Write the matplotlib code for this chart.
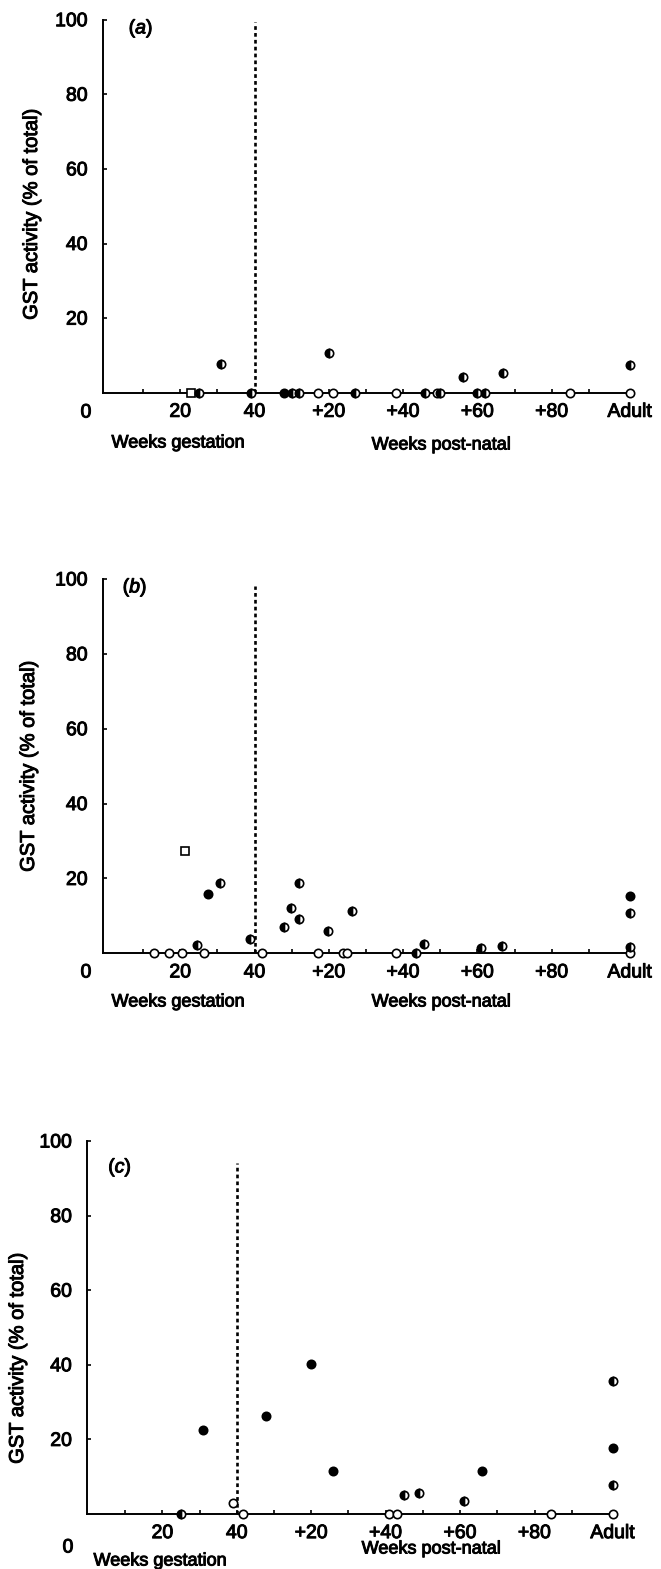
#!/usr/bin/env python3
"""GST activity (% of total) vs age, three panels (a), (b), (c)."""

import matplotlib
matplotlib.use("Agg")
import matplotlib.pyplot as plt
import matplotlib.patheffects as pe

plt.rcParams["font.family"] = ["Liberation Sans", "DejaVu Sans"]
plt.rcParams["mathtext.fontset"] = "custom"
plt.rcParams["mathtext.it"] = "Liberation Sans:italic"
plt.rcParams["mathtext.rm"] = "Liberation Sans"

# x = weeks since conception (gestation weeks; post-natal +n -> 40 + n; adult drawn at 141)
ADULT = 141
tick_pos = [20, 40, 60, 80, 100, 120, ADULT]
tick_labels = ["20", "40", "+20", "+40", "+60", "+80", "Adult"]
minor_pos = [10, 20, 30, 40, 50, 60, 70, 80, 90, 100, 110, 120, 130]
y_ticks = [20, 40, 60, 80, 100]

# panel (a)
a_x = [23, 25, 39, 48, 50, 52, 57, 61, 67, 78, 86, 89, 90, 100, 102, 125, 141,
       31, 60, 96, 107, 141]
a_y = [0, 0, 0, 0, 0, 0, 0, 0, 0, 0, 0, 0, 0, 0, 0, 0, 0,
       7.6, 10.6, 4.1, 5.4, 7.4]
a_kind = ["square", "half", "half", "filled", "half", "half", "open", "open", "half",
          "open", "half", "open", "half", "half", "half", "open", "open",
          "half", "half", "half", "half", "half"]

# panel (b)
b_x = [13, 17, 20.5, 26.5, 42, 57, 63.7, 65, 78, 83.5, 141,
       21.4, 24.5, 27.4, 30.6, 38.7, 47.9, 49.7, 52, 52, 59.9, 66.2,
       85.6, 100.9, 106.5, 141, 141, 141]
b_y = [0, 0, 0, 0, 0, 0, 0, 0, 0, 0, 0,
       27.4, 2.2, 15.8, 18.7, 3.7, 7.1, 12.0, 18.7, 9.2, 6.0, 11.4,
       2.5, 1.3, 2.0, 15.4, 10.9, 1.6]
b_kind = ["open", "open", "open", "open", "open", "open", "open", "open", "open", "half", "open",
          "square", "half", "filled", "half", "half", "half", "half", "half", "half", "half", "half",
          "half", "half", "half", "filled", "half", "half"]

# panel (c)
c_x = [25, 41.7, 81, 83, 124.4, 141,
       39, 30.8, 47.9, 59.8, 65.9, 85, 89, 101, 106, 141, 141, 141]
c_y = [0, 0, 0, 0, 0, 0,
       3.0, 22.5, 26.4, 40.1, 11.5, 5.1, 5.7, 3.5, 11.4, 35.7, 17.6, 7.8]
c_kind = ["half", "open", "open", "open", "open", "open",
          "open", "filled", "filled", "filled", "filled", "half", "half", "half", "filled",
          "half", "filled", "half"]

W, H = 661, 1569
FS_TICK = 14
FS_YLAB = 14.5
FS_XLAB = 13
heavy = [pe.withStroke(linewidth=0.7, foreground="black")]

# pixel boxes: (left, right, top, bottom), xlim, dotted-line top, label rows
panels = [
    dict(x=a_x, y=a_y, kind=a_kind, box=(103, 632, 19.7, 392.7), xlim=(-0.8, 141.6),
         dot_top=99.5, letter="a", letter_xy=(141, 29), zero_xy=(86, 413),
         gest_y=443, post_y=445, gest_x=178, post_x=441, ylab=(33, 214)),
    dict(x=b_x, y=b_y, kind=b_kind, box=(103, 632, 579, 953.3), xlim=(-0.8, 141.6),
         dot_top=98, letter="b", letter_xy=(135, 588), zero_xy=(86, 973),
         gest_y=1002, post_y=1002, gest_x=178, post_x=441, ylab=(30, 766)),
    dict(x=c_x, y=c_y, kind=c_kind, box=(87.3, 614.5, 1141, 1514), xlim=(-0.2, 141.5),
         dot_top=94, letter="c", letter_xy=(120, 1168), zero_xy=(68, 1548),
         gest_y=1561, post_y=1549, gest_x=160, post_x=431, ylab=(19, 1358)),
]

fig = plt.figure(figsize=(W / 100, H / 100), dpi=100)

for p in panels:
    l, r, t, b = p["box"]
    ax = fig.add_axes([l / W, 1 - b / H, (r - l) / W, (b - t) / H])
    ax.set_xlim(*p["xlim"])
    ax.set_ylim(0, 100)
    for s in ["top", "right"]:
        ax.spines[s].set_visible(False)
    for s in ["left", "bottom"]:
        ax.spines[s].set_linewidth(1.4)

    ax.axvline(40, ymin=0, ymax=p["dot_top"] / 100, color="black", lw=1.9,
               linestyle=(0, (1.4, 1.2)), zorder=1)

    for x, y, k in zip(p["x"], p["y"], p["kind"]):
        if k == "square":
            ax.plot(x, y, "s", ms=6, mfc="white", mec="black", mew=1.2, clip_on=False, zorder=3)
        elif k == "open":
            ax.plot(x, y, "o", ms=6, mfc="white", mec="black", mew=1.2, clip_on=False, zorder=3)
        elif k == "filled":
            ax.plot(x, y, "o", ms=6, mfc="black", mec="black", mew=1.2, clip_on=False, zorder=3)
        else:
            ax.plot(x, y, "o", ms=6, mfc="black", mec="black", mew=1.2, fillstyle="left",
                    markerfacecoloralt="white", clip_on=False, zorder=3)

    ax.set_xticks(tick_pos)
    ax.set_xticklabels(tick_labels, fontsize=FS_TICK)
    ax.set_xticks(minor_pos, minor=True)
    ax.tick_params(axis="x", which="both", direction="in", length=3, width=1.2, pad=8)
    ax.set_yticks(y_ticks)
    ax.set_yticklabels([str(v) for v in y_ticks], fontsize=FS_TICK)
    ax.tick_params(axis="y", direction="in", length=3, width=1.2, pad=11)
    for lab in ax.get_xticklabels() + ax.get_yticklabels():
        lab.set_path_effects(heavy)

    ylab = ax.set_ylabel("GST activity (% of total)", fontsize=FS_YLAB)
    ylab.set_path_effects(heavy)
    lx, ly = p["ylab"]
    # the rotated label is anchored by its right-hand (baseline) side
    ax.yaxis.set_label_coords((lx + 8 - l) / (r - l), (b - ly) / (b - t))

    texts = [
        fig.text(p["letter_xy"][0] / W, 1 - p["letter_xy"][1] / H, r"($\it{%s}$)" % p["letter"],
                 fontsize=FS_TICK, ha="center", va="center"),
        fig.text(p["zero_xy"][0] / W, 1 - p["zero_xy"][1] / H, "0",
                 fontsize=FS_TICK, ha="center", va="center"),
        fig.text(p["gest_x"] / W, 1 - p["gest_y"] / H, "Weeks gestation",
                 fontsize=FS_XLAB, ha="center", va="center"),
        fig.text(p["post_x"] / W, 1 - p["post_y"] / H, "Weeks post-natal",
                 fontsize=FS_XLAB, ha="center", va="center"),
    ]
    for tx in texts:
        tx.set_path_effects(heavy)

fig.savefig("out.png", dpi=100)
